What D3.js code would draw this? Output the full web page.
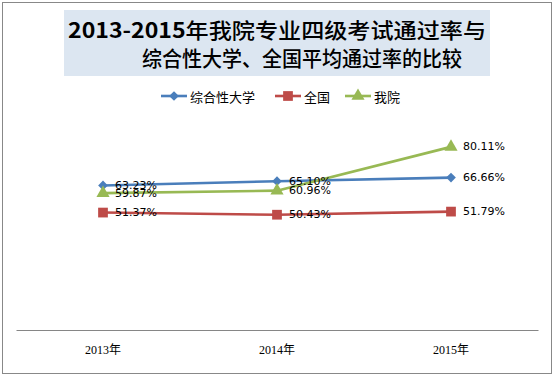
<!DOCTYPE html>
<html><head><meta charset="utf-8">
<script src="https://cdn.jsdelivr.net/npm/d3@7"></script>
<style>body{margin:0;background:#fff}svg{display:block}</style>
</head><body>
<svg id="c" width="555" height="377"></svg>
<script>
const categories = ["2013年", "2014年", "2015年"];
const seriesNames = ["综合性大学", "全国", "我院"];
const zongheValues = [63.23, 65.10, 66.66];
const quanguoValues = [51.37, 50.43, 51.79];
const woyuanValues = [59.87, 60.96, 80.11];
const titleLines = ["2013-2015", "年我院专业四级考试通过率与", "综合性大学、全国平均通过率的比较"];

const series = [
  {name: seriesNames[0], values: zongheValues, color: "#4a7ebb", sym: d3.symbolDiamond2, size: 60},
  {name: seriesNames[1], values: quanguoValues, color: "#be4b48", sym: d3.symbolSquare, size: 95},
  {name: seriesNames[2], values: woyuanValues, color: "#98b954", sym: d3.symbolTriangle, size: 75}
];

const svg = d3.select("#c");
svg.append("rect").attr("x", 2.5).attr("y", 2.5).attr("width", 549).attr("height", 371)
  .attr("fill", "#fff").attr("stroke", "#888").attr("stroke-width", 1);

// title
svg.append("rect").attr("x", 64).attr("y", 10).attr("width", 426).attr("height", 66).attr("fill", "#dce6f1");
const tfont = "'Noto Sans CJK SC', sans-serif";
const t1 = svg.append("text").attr("x", 277).attr("y", 29).attr("text-anchor", "middle")
  .attr("dominant-baseline", "central").attr("font-family", tfont).attr("font-size", 21)
  .attr("fill", "#000")
  .attr("textLength", 418).attr("lengthAdjust", "spacingAndGlyphs");
t1.append("tspan").attr("font-weight", 700).text(titleLines[0]);
t1.append("tspan").attr("font-weight", 500).text(titleLines[1]);
svg.append("text").attr("x", 302).attr("y", 57).attr("text-anchor", "middle")
  .attr("dominant-baseline", "central").attr("font-family", tfont).attr("font-size", 21)
  .attr("font-weight", 500).attr("fill", "#000")
  .attr("textLength", 320).attr("lengthAdjust", "spacingAndGlyphs").text(titleLines[2]);

// scales
const x = d3.scaleBand().domain(categories).range([16, 538]);
const y = d3.scaleLinear().domain([0, 100]).range([330, 101.4]);
const cx = c => x(c) + x.bandwidth() / 2;

// axis
const ax = svg.append("g").attr("transform", "translate(0,330)")
  .call(d3.axisBottom(x).tickSize(0).tickPadding(15));
ax.select(".domain").attr("stroke", "#868686").attr("stroke-width", 1);
ax.selectAll("text").attr("font-family", "'Liberation Serif', 'Noto Sans CJK SC', serif")
  .attr("font-size", 12).attr("fill", "#000");

// lines
const line = d3.line().x((d, i) => cx(categories[i])).y(d => y(d));
series.forEach(s => {
  svg.append("path").datum(s.values).attr("d", line).attr("fill", "none")
    .attr("stroke", s.color).attr("stroke-width", 2.6).attr("stroke-linejoin", "round");
  svg.selectAll(null).data(s.values).join("path")
    .attr("d", d3.symbol().type(s.sym).size(s.size))
    .attr("transform", (d, i) => `translate(${cx(categories[i])},${y(d)})`)
    .attr("fill", s.color);
});
series.forEach(s => {
  svg.selectAll(null).data(s.values).join("text")
    .attr("x", (d, i) => cx(categories[i]) + 12).attr("y", d => y(d))
    .attr("dominant-baseline", "central")
    .attr("font-family", "'DejaVu Sans', sans-serif").attr("font-size", 11).attr("fill", "#000")
    .text(d => d.toFixed(2) + "%");
});

// legend
const legendX = [161, 275, 345];
series.forEach((s, i) => {
  const g = svg.append("g").attr("transform", `translate(${legendX[i]},96)`);
  g.append("line").attr("x1", 0).attr("x2", 26).attr("stroke", s.color).attr("stroke-width", 2.6);
  g.append("path").attr("d", d3.symbol().type(s.sym).size(s.size)).attr("transform", "translate(13,0)").attr("fill", s.color);
  g.append("text").attr("x", 29).attr("y", 0).attr("dominant-baseline", "central")
    .attr("font-family", "'Noto Sans CJK SC', sans-serif").attr("font-size", 13).attr("fill", "#000").text(s.name);
});
</script>
</body></html>
